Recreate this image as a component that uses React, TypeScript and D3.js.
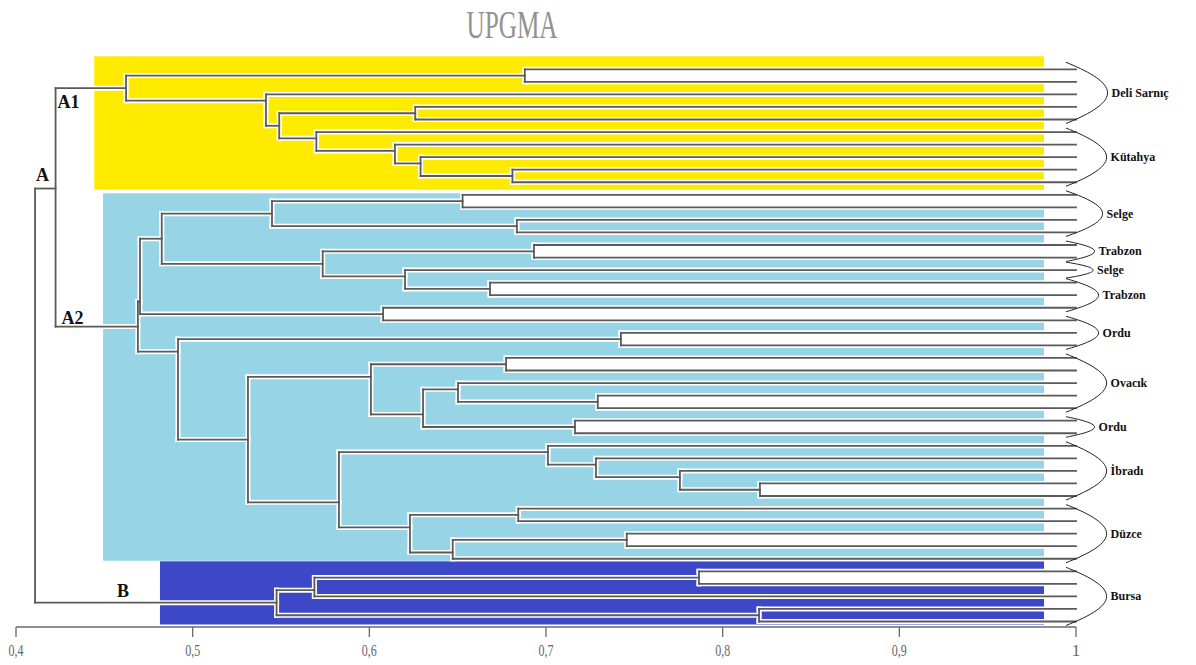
import React from "react";
import * as d3 from "d3";

// ---------------- data ----------------
const tickValues = [0.4, 0.5, 0.6, 0.7, 0.8, 0.9, 1];
const tickLabels = ["0,4", "0,5", "0,6", "0,7", "0,8", "0,9", "1"];

// label groups along the leaves, top to bottom
const groupNames = ["Deli Sarnıç", "Kütahya", "Selge", "Trabzon", "Selge", "Trabzon", "Ordu", "Ovacık", "Ordu", "İbradı", "Düzce", "Bursa"];
const groupSizes = [5, 5, 4, 2, 1, 3, 3, 5, 2, 5, 5, 5];

// UPGMA linkage: [upper child, lower child, similarity]; ids < 45 are leaves, 45 + k is merge k
const merges: [number, number, number][] = [
  [0, 1, 0.688], // 45
  [3, 4, 0.626], // 46
  [8, 9, 0.681], // 47
  [7, 47, 0.629], // 48
  [6, 48, 0.6145], // 49
  [5, 49, 0.57], // 50
  [46, 50, 0.549], // 51
  [2, 51, 0.5415], // 52
  [45, 52, 0.4623], // 53  A1
  [10, 11, 0.6528], // 54
  [12, 13, 0.6835], // 55
  [54, 55, 0.5449], // 56
  [14, 15, 0.6932], // 57
  [17, 18, 0.6683], // 58
  [16, 58, 0.6202], // 59
  [57, 59, 0.5736], // 60
  [56, 60, 0.4825], // 61
  [19, 20, 0.6078], // 62
  [61, 62, 0.4702], // 63
  [21, 22, 0.7424], // 64
  [23, 24, 0.6774], // 65
  [26, 27, 0.7293], // 66
  [25, 66, 0.6502], // 67
  [28, 29, 0.7164], // 68
  [67, 68, 0.6304], // 69
  [65, 69, 0.6009], // 70
  [33, 34, 0.8211], // 71
  [32, 71, 0.7758], // 72
  [31, 72, 0.7283], // 73
  [30, 73, 0.7011], // 74
  [35, 36, 0.6843], // 75
  [37, 38, 0.7457], // 76
  [76, 39, 0.6472], // 77
  [75, 77, 0.623], // 78
  [74, 78, 0.5828], // 79
  [70, 79, 0.5313], // 80
  [64, 80, 0.4917], // 81
  [63, 81, 0.469], // 82  A2
  [53, 82, 0.4224], // 83  A
  [40, 41, 0.7866], // 84
  [84, 42, 0.5689], // 85
  [43, 44, 0.8206], // 86
  [85, 86, 0.5475], // 87  B
  [83, 87, 0.4108], // 88  root
];

const clusterNames = ["A1", "A2", "B"];
const clusterNodes = [53, 82, 87];

// ---------------- styles ----------------
const clusterColors = ["#FFEB00", "#96D4E6", "#3D48C9"];
const clusterLeft = [0.4443, 0.4493, 0.4815];
const clusterPadTop = [13, 1.5, 10];
const clusterPadBottom = [7.5, 2, 3];
const whiteCherries = [45, 54, 57, 58, 62, 64, 65, 66, 68, 71, 76, 84];
const LINE = "#5a5a5a";
const SERIF = "'Liberation Serif', 'Times New Roman', serif";

export default function App() {
  const W = 1196;
  const H = 665;
  const N = d3.sum(groupSizes);
  const x = d3.scaleLinear().domain([0.4, 1]).range([16, 1076]);
  const yLeaf = d3.scaleLinear().domain([0, N - 1]).range([69.3, 621.5]);
  const colorRight = 1044;

  type Node = { sim: number; first: number; last: number; y: number; kids?: [number, number] };
  const nodes: Node[] = [];
  for (let i = 0; i < N; i++) nodes.push({ sim: 1, first: i, last: i, y: yLeaf(i) });
  merges.forEach(([a, b, s]) => {
    const A = nodes[a];
    const B = nodes[b];
    nodes.push({ sim: s, first: A.first, last: B.last, y: (yLeaf(A.last) + yLeaf(B.first)) / 2, kids: [a, b] });
  });

  const segs: { x1: number; y1: number; x2: number; y2: number }[] = [];
  nodes.forEach((n) => {
    if (!n.kids) return;
    const [a, b] = n.kids.map((k) => nodes[k]);
    const xn = x(n.sim);
    segs.push({ x1: xn, y1: a.y, x2: xn, y2: b.y });
    [a, b].forEach((c) => segs.push({ x1: xn, y1: c.y, x2: x(c.sim), y2: c.y }));
  });

  // groups -> leaf ranges
  let acc = 0;
  const groups = groupNames.map((name, i) => {
    const f = acc;
    const l = acc + groupSizes[i] - 1;
    acc += groupSizes[i];
    return { name, f, l };
  });

  return (
    <svg width={W} height={H} style={{ position: "absolute", left: 0, top: 0, background: "#fff" }}>
      <text x={512} y={38} textAnchor="middle" fontFamily={SERIF} fontSize={40} fill="#929292" textLength={91} lengthAdjust="spacingAndGlyphs">
        UPGMA
      </text>

      {clusterNodes.map((id, i) => {
        const n = nodes[id];
        const y0 = yLeaf(n.first) - clusterPadTop[i];
        const y1 = yLeaf(n.last) + clusterPadBottom[i];
        const x0 = x(clusterLeft[i]);
        return <rect key={"c" + i} x={x0} y={y0} width={colorRight - x0} height={y1 - y0} fill={clusterColors[i]} />;
      })}

      {whiteCherries.map((id) => {
        const n = nodes[id];
        const y0 = yLeaf(n.first);
        const y1 = yLeaf(n.last);
        return <rect key={"w" + id} x={x(n.sim)} y={y0} width={colorRight - x(n.sim)} height={y1 - y0} fill="#ffffff" />;
      })}

      <g strokeLinecap="square">
        {segs.map((s, i) => (
          <line key={"h" + i} x1={s.x1} y1={s.y1} x2={s.x2} y2={s.y2} stroke="#ffffff" strokeWidth={5} />
        ))}
        {segs.map((s, i) => (
          <line key={"l" + i} x1={s.x1} y1={s.y1} x2={s.x2} y2={s.y2} stroke={LINE} strokeWidth={1.8} />
        ))}
      </g>

      {/* cluster names */}
      {(() => {
        const A = nodes[83];
        const A1 = nodes[53];
        const A2 = nodes[82];
        const B = nodes[87];
        const root = nodes[88];
        const st = { fontFamily: SERIF, fontSize: 18, fontWeight: 700, fill: "#111" } as const;
        return (
          <g>
            <text x={x(A.sim) + 2} y={A1.y + 20} {...st}>{clusterNames[0]}</text>
            <text x={x(root.sim) + 1} y={A.y - 8} {...st}>A</text>
            <text x={x(A.sim) + 6} y={A2.y - 3} {...st}>{clusterNames[1]}</text>
            <text x={x(root.sim) + 82} y={B.y - 6} {...st}>{clusterNames[2]}</text>
          </g>
        );
      })()}

      {/* group brackets */}
      {groups.map((g, i) => {
        const pad = g.f === g.l ? 8 : 4;
        const y0 = yLeaf(g.f) - pad - (i === 0 ? 3 : 0);
        const y1 = yLeaf(g.l) + pad;
        const ym = (y0 + y1) / 2;
        const x0 = 1066;
        const xt = x0 + Math.min(44, 22 + (y1 - y0) * 0.32);
        const h = (y1 - y0) / 2;
        const w = xt - x0;
        const d = `M${x0},${y0} C${x0 + w * 0.45},${y0 + h * 0.25} ${xt},${ym - h * 0.4} ${xt},${ym} C${xt},${ym + h * 0.4} ${x0 + w * 0.45},${y1 - h * 0.25} ${x0},${y1}`;
        return (
          <g key={"g" + i}>
            <path d={d} fill="none" stroke="#222" strokeWidth={1} />
            <text x={xt + 4} y={ym + 4} fontFamily={SERIF} fontSize={12} fontWeight={700} fill="#111">
              {g.name}
            </text>
          </g>
        );
      })}

      {/* axis */}
      <g>
        <line x1={x(0.4)} x2={x(1)} y1={627} y2={627} stroke="#6a6a6a" strokeWidth={1.5} />
        {tickValues.map((v, i) => (
          <g key={"t" + i}>
            <line x1={x(v)} x2={x(v)} y1={627} y2={637} stroke="#6a6a6a" strokeWidth={1.3} />
            <text x={x(v)} y={656} textAnchor="middle" fontFamily={SERIF} fontSize={17} fill="#666"
              {...(tickLabels[i].length > 1 ? { textLength: 15, lengthAdjust: "spacingAndGlyphs" } : {})}>
              {tickLabels[i]}
            </text>
          </g>
        ))}
      </g>
    </svg>
  );
}
